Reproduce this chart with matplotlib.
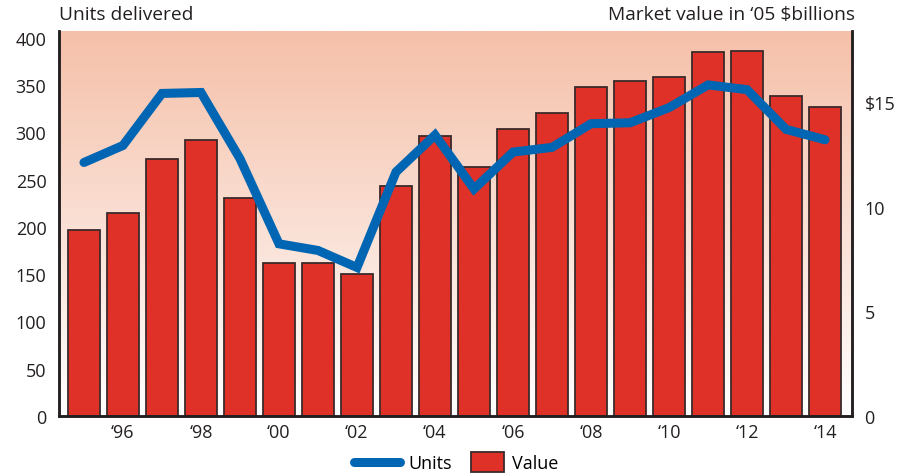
import numpy as np
import matplotlib
matplotlib.use("Agg")
import matplotlib.pyplot as plt
from matplotlib.lines import Line2D
from matplotlib.patches import Patch, Rectangle
from matplotlib.legend_handler import HandlerPatch
from matplotlib.colors import LinearSegmentedColormap

plt.rcParams['font.family'] = ['Open Sans', 'DejaVu Sans']

years = list(range(1995, 2015))
units = [268, 286, 341, 342, 272, 182, 175, 157, 258, 297, 240, 279, 284, 309, 310, 326, 350, 345, 303, 292]
value = [8.9, 9.7, 12.3, 13.2, 10.4, 7.3, 7.3, 6.8, 11.0, 13.4, 11.9, 13.7, 14.5, 15.7, 16.0, 16.2, 17.4, 17.45, 15.3, 14.75]
xtick_years = list(range(1996, 2015, 2))
xtick_labels = ["\u2018%02d" % (y % 100) for y in xtick_years]
left_ticks = list(range(0, 401, 50))
right_ticks = [0, 5, 10, 15]
right_labels = ["0", "5", "10", "$15"]

BLUE = "#0065b2"
RED = "#df3127"
EDGE = "#3b2b2b"
TXT = "#231f20"

fig = plt.figure(figsize=(9.12, 4.77), dpi=100)
axL = fig.add_axes([59/912, 1-417/477, (852-59)/912, (417-32)/477])
axR = axL.twinx()

# gradient background
cmap = LinearSegmentedColormap.from_list("bg", ["#ffffff", "#f5c0a9"])
grad = np.linspace(0, 1, 256).reshape(-1, 1)
axR.imshow(grad, aspect='auto', cmap=cmap, origin='lower', extent=[0, 1, 0, 1],
           transform=axR.transAxes, zorder=0)

axR.bar(years, value, width=0.81, color=RED, edgecolor=EDGE, linewidth=1.3, zorder=2)
axL.plot(years, units, color=BLUE, linewidth=6.5, solid_capstyle='round',
         solid_joinstyle='miter', zorder=3)

axL.set_zorder(axR.get_zorder() + 1)
axL.patch.set_visible(False)

axL.set_xlim(1994.36, 2014.69)
axL.set_ylim(0, 407)
axR.set_ylim(0, 18.4)

axL.set_yticks(left_ticks)
axR.set_yticks(right_ticks)
axR.set_yticklabels(right_labels)
axL.set_xticks(xtick_years)
axL.set_xticklabels(xtick_labels)

for ax in (axL, axR):
    ax.tick_params(length=0, labelsize=13, colors=TXT)
    ax.spines['top'].set_visible(False)
    for s in ax.spines.values():
        s.set_linewidth(1.8)
        s.set_color(TXT)
axL.tick_params(axis='y', pad=9)
axR.tick_params(axis='y', pad=9)
axL.tick_params(axis='x', pad=5)

fig.text(59/912, 1-15/477, "Units delivered", fontsize=13.8, color=TXT, va='center', ha='left')
fig.text(855/912, 1-15/477, "Market value in \u201805 $billions", fontsize=13.8, color=TXT, va='center', ha='right')


def box_patch(legend, orig_handle, xdescent, ydescent, width, height, fontsize):
    w = 23.8
    h = 14.4
    return Rectangle((-xdescent + width - w, -ydescent + height / 2 - h / 2), w, h)


handles = [Line2D([0], [0], color=BLUE, linewidth=6.5, solid_capstyle='round'),
           Patch(facecolor=RED, edgecolor=EDGE, linewidth=1.3)]
fig.legend(handles, ["Units", "Value"], loc='center', bbox_to_anchor=(456/912, 1-464/477),
           ncol=2, frameon=False, fontsize=13, handlelength=2.55, handletextpad=0.45,
           columnspacing=0.35,
           handler_map={Patch: HandlerPatch(patch_func=box_patch)})

fig.savefig("out.png", dpi=100)
